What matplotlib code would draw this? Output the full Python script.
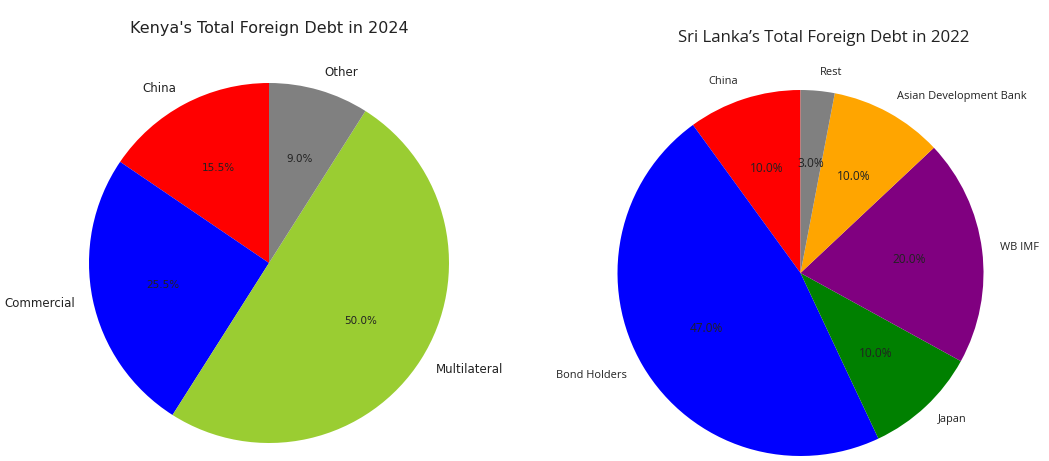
import matplotlib
matplotlib.use("Agg")
from matplotlib import pyplot as plt

# Kenya, 2024
kenya_labels = ["China", "Commercial", "Multilateral", "Other"]
kenya_share = [15.5, 25.5, 50.0, 9.0]
kenya_colors = ["red", "blue", "yellowgreen", "gray"]

# Sri Lanka, 2022
lanka_labels = ["China", "Bond Holders", "Japan", "WB IMF", "Asian Development Bank", "Rest"]
lanka_share = [10.0, 47.0, 10.0, 20.0, 10.0, 3.0]
lanka_colors = ["red", "blue", "green", "purple", "orange", "gray"]

W, H = 1049, 461
fig = plt.figure(figsize=(W / 100, H / 100), dpi=100)


def pie_axes(cx, cy, r):
    # square axes (pixel coords, y from top) that exactly holds a unit pie
    return fig.add_axes([(cx - r) / W, (H - cy - r) / H, 2 * r / W, 2 * r / H])


# Left pie
ax1 = pie_axes(269, 263, 180)
_, t1, p1 = ax1.pie(kenya_share, labels=kenya_labels, colors=kenya_colors,
                    autopct="%1.1f%%", startangle=90,
                    textprops={"fontsize": 8.5, "color": "#222222"})
for t in p1:
    t.set_fontsize(7.5)
ax1.set_xlim(-1, 1)
ax1.set_ylim(-1, 1)
ax1.set_aspect("equal")
fig.text(269 / W, 1 - 28 / H, "Kenya's Total Foreign Debt in 2024",
         ha="center", va="center", fontsize=11.5, color="#222222")

# Right pie
ax2 = pie_axes(800.5, 273, 183)
_, t2, p2 = ax2.pie(lanka_share, labels=lanka_labels, colors=lanka_colors,
                    autopct="%1.1f%%", startangle=90,
                    textprops={"fontsize": 7.9, "color": "#222222",
                               "family": "Open Sans"})
for t in p2:
    t.set_fontsize(8.6)
ax2.set_xlim(-1, 1)
ax2.set_ylim(-1, 1)
ax2.set_aspect("equal")
fig.text(824 / W, 1 - 38 / H, "Sri Lanka\u2019s Total Foreign Debt in 2022",
         ha="center", va="center", fontsize=12.1, color="#222222",
         family="Open Sans")

fig.savefig("out.png", dpi=100)
